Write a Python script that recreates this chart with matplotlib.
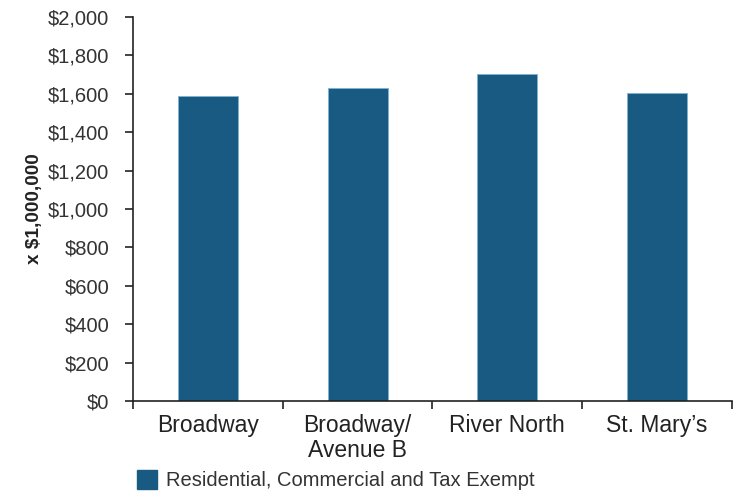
import matplotlib.pyplot as plt
from matplotlib.ticker import FuncFormatter, MultipleLocator
from matplotlib.patches import Patch

# 地区和对应的估值（单位：百万美元）
districts = ["Broadway", "Broadway/\nAvenue B", "River North", "St. Mary\u2019s"]
values = [1590, 1628, 1700, 1605]
series_name = "Residential, Commercial and Tax Exempt"


def main():
    plt.rcParams['font.family'] = ['Liberation Sans', 'DejaVu Sans']

    fig = plt.figure(figsize=(7.43, 4.94), dpi=100)
    ax = fig.add_axes([0.179, 0.188, 0.806, 0.778])

    bar_color = '#185a81'
    x = range(len(districts))
    ax.bar(x, values, width=0.4, color=bar_color, edgecolor='#7fb2d0', linewidth=0.6)

    ax.set_xlim(-0.5, len(districts) - 0.5)
    ax.set_ylim(0, 2000)
    ax.yaxis.set_major_locator(MultipleLocator(200))
    ax.yaxis.set_major_formatter(FuncFormatter(lambda v, p: "${:,.0f}".format(v)))

    # 类别之间的刻度线
    ax.set_xticks([i - 0.5 for i in range(len(districts) + 1)])
    ax.set_xticklabels([])
    ax.set_xticks(list(x), minor=True)
    ax.set_xticklabels(districts, minor=True, fontsize=16.5, color='#222222', linespacing=1.15)
    ax.tick_params(axis='x', which='minor', length=0, pad=9)
    ax.tick_params(axis='x', which='major', length=6, width=1.2, direction='out', color='#222222')
    ax.tick_params(axis='y', length=6, width=1.2, direction='out', color='#222222',
                   labelsize=14.5, labelcolor='#333333', pad=11)

    for s in ['top', 'right']:
        ax.spines[s].set_visible(False)
    for s in ['left', 'bottom']:
        ax.spines[s].set_linewidth(1.2)
        ax.spines[s].set_color('#222222')

    ax.set_ylabel("x $1,000,000", fontsize=13.7, fontweight='bold', color='#222222')
    ax.yaxis.set_label_coords(-0.15, 0.5)

    handles = [Patch(facecolor=bar_color, edgecolor=bar_color)]
    fig.legend(handles, [series_name], loc='center left', bbox_to_anchor=(0.1844, 0.028),
               frameon=False, fontsize=14.5, handlelength=1.0, handleheight=1.1,
               handletextpad=0.45, borderpad=0, borderaxespad=0, labelcolor='#333333')

    fig.savefig('out.png', dpi=100)


if __name__ == "__main__":
    main()
